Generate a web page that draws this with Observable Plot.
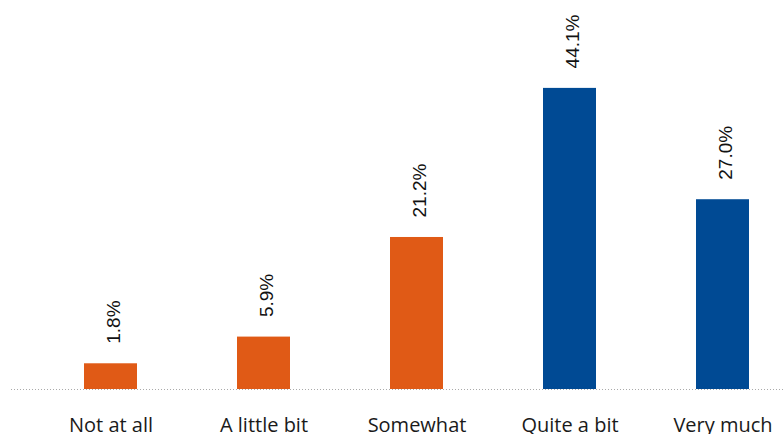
<!DOCTYPE html>
<html><head><meta charset="utf-8">
<script src="https://cdn.jsdelivr.net/npm/d3@7"></script>
<script src="https://cdn.jsdelivr.net/npm/@observablehq/plot@0.6"></script>
<style>body{margin:0;background:#fff;} svg{display:block;}</style>
</head><body><div id="chart"></div>
<script>
const categories = ["Not at all", "A little bit", "Somewhat", "Quite a bit", "Very much"];
const values = [1.8, 5.9, 21.2, 44.1, 27.0];
const groups = ["Low", "Low", "Low", "High", "High"];

const data = categories.map((c, i) => ({category: c, value: values[i], group: groups[i]}));
const yMin = -2.15;

const chart = Plot.plot({
  width: 784,
  height: 434,
  marginTop: 0,
  marginLeft: 11,
  marginRight: 0,
  marginBottom: 45,
  style: {background: "#fff"},
  x: {domain: categories, range: [83, 750], paddingInner: 0.655, paddingOuter: 0, label: null},
  y: {domain: [yMin, 57.6], axis: null},
  color: {domain: ["Low", "High"], range: ["#E05A16", "#004A94"]},
  marks: [
    Plot.ruleY([yMin], {stroke: "#aaa", strokeDasharray: "1,2", strokeWidth: 1}),
    Plot.rectY(data, {x: "category", y1: yMin, y2: "value", fill: "group", insetLeft: 0, insetRight: 0}),
    Plot.text(data, {x: "category", y: "value", text: d => d.value.toFixed(1) + "%", rotate: -90, textAnchor: "start", lineAnchor: "middle", dy: -20, dx: 3, fontSize: 19, fontFamily: "Liberation Sans, Arial, sans-serif", fill: "#111"}),
    Plot.axisX({tickSize: 0, tickPadding: 28, fontSize: 20, fontFamily: "Open Sans, sans-serif", fill: "#1a1a1a", label: null})
  ]
});
document.getElementById("chart").appendChild(chart);
</script>
</body></html>
